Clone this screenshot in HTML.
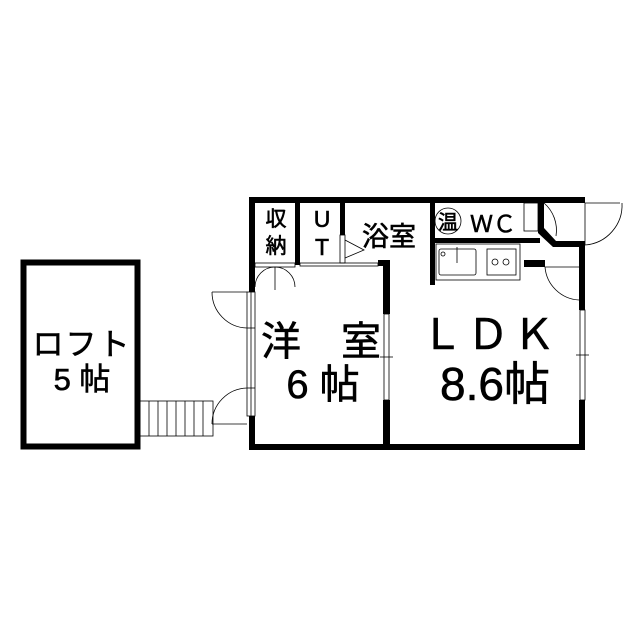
<!DOCTYPE html>
<html><head><meta charset="utf-8"><style>
html,body{margin:0;padding:0;background:#fff;width:640px;height:640px;overflow:hidden}
text{font-family:"Liberation Sans","Noto Sans CJK JP",sans-serif;fill:#000;stroke:#000;stroke-width:0.6}
</style></head><body>
<svg width="640" height="640" viewBox="0 0 640 640" xmlns="http://www.w3.org/2000/svg">
<!-- loft -->
<rect x="23.5" y="262.5" width="114" height="184" fill="none" stroke="#000" stroke-width="6"/>
<g stroke="#000" stroke-width="0.8" fill="none">
<rect x="140" y="401" width="73" height="35"/>
<line x1="149" y1="401" x2="149" y2="436"/><line x1="158" y1="401" x2="158" y2="436"/>
<line x1="167" y1="401" x2="167" y2="436"/><line x1="176" y1="401" x2="176" y2="436"/>
<line x1="185" y1="401" x2="185" y2="436"/><line x1="194" y1="401" x2="194" y2="436"/>
<line x1="203" y1="401" x2="203" y2="436"/>
</g>
<text x="82" y="355" font-size="31" text-anchor="middle" letter-spacing="2">ロフト</text>
<text x="82" y="390" font-size="31" text-anchor="middle">5 帖</text>

<!-- walls -->
<g fill="#000">
<rect x="249" y="197" width="336" height="6"/>
<rect x="249" y="197" width="6" height="95"/>
<rect x="249" y="416" width="6" height="34"/>
<rect x="249" y="444" width="336" height="6"/>
<rect x="383" y="262" width="7" height="52"/>
<rect x="383" y="400" width="7" height="48"/>
<rect x="579" y="245" width="6" height="65"/>
<rect x="579" y="400" width="6" height="48"/>
<rect x="295" y="197" width="5" height="68"/>
<rect x="340" y="197" width="5" height="38"/>
<rect x="378" y="260" width="12" height="6"/>
<rect x="430" y="197" width="5" height="88"/>
<rect x="430" y="238" width="110" height="5"/>
<rect x="538" y="197" width="6" height="36"/>
<rect x="524" y="260" width="21" height="7"/>
<polygon points="538,228 544,228 556,241 585,241 585,247 553,247 538,233"/>
</g>
<g stroke="#000" stroke-width="0.8" fill="none">
<rect x="255" y="263" width="40" height="4"/>
<path d="M255,287 A20,20 0 0 1 275,267 M295,287 A20,20 0 0 0 275,267"/>
<line x1="275" y1="267" x2="275" y2="290"/>
<rect x="300" y="263" width="78" height="3"/>
<rect x="340" y="235" width="5" height="28"/>
<path d="M345,240 L364,250 L345,258"/>
<rect x="524" y="203" width="14" height="28"/>
<path d="M544,203 A36,36 0 0 1 556,236"/>
<line x1="585" y1="203" x2="585" y2="245"/>
<path d="M585,203 L620,203 M585,245 A40,40 0 0 0 622,203"/>
<path d="M545,267 L579,267 M545,267 A36,36 0 0 0 579,300"/>
<rect x="247" y="292" width="8" height="124"/>
<line x1="251" y1="292" x2="251" y2="416"/>
<line x1="247" y1="328" x2="255" y2="328"/><line x1="247" y1="388" x2="255" y2="388"/>
<path d="M212,292 L247,292 M212,292 A36,36 0 0 0 247,328"/>
<path d="M212,424 L247,424 M212,424 A36,36 0 0 1 247,388"/>
<rect x="384" y="314" width="5" height="86"/>
<line x1="380" y1="357" x2="393" y2="357"/>
<rect x="580" y="310" width="5" height="90"/>
<line x1="576" y1="355" x2="589" y2="355"/>
<rect x="436" y="244" width="84" height="36"/>
<rect x="439" y="249" width="37" height="26" rx="2"/>
<rect x="487" y="249" width="29" height="26"/>
<circle cx="495" cy="262" r="3"/><circle cx="506" cy="262" r="3"/>
<circle cx="443" cy="254" r="2"/>
<line x1="457" y1="247" x2="457" y2="263"/>
<circle cx="448" cy="221" r="13"/>
</g>
<text x="276" y="226" font-size="21" text-anchor="middle">収</text>
<text x="276" y="253" font-size="21" text-anchor="middle">納</text>
<text x="322" y="227" font-size="23" text-anchor="middle">U</text>
<text x="322" y="255" font-size="23" text-anchor="middle">T</text>
<text x="389" y="246" font-size="27" text-anchor="middle">浴室</text>
<text x="448" y="229" font-size="20" text-anchor="middle">温</text>
<text x="493" y="232" font-size="23" text-anchor="middle">ＷＣ</text>
<text x="321" y="355" font-size="40" text-anchor="middle">洋　室</text>
<text x="323" y="398" font-size="40" text-anchor="middle">6 帖</text>
<text x="490" y="349" font-size="42" text-anchor="middle" letter-spacing="4">ＬＤＫ</text>
<text x="495" y="400" font-size="46" text-anchor="middle">8.6帖</text>
</svg>
</body></html>
